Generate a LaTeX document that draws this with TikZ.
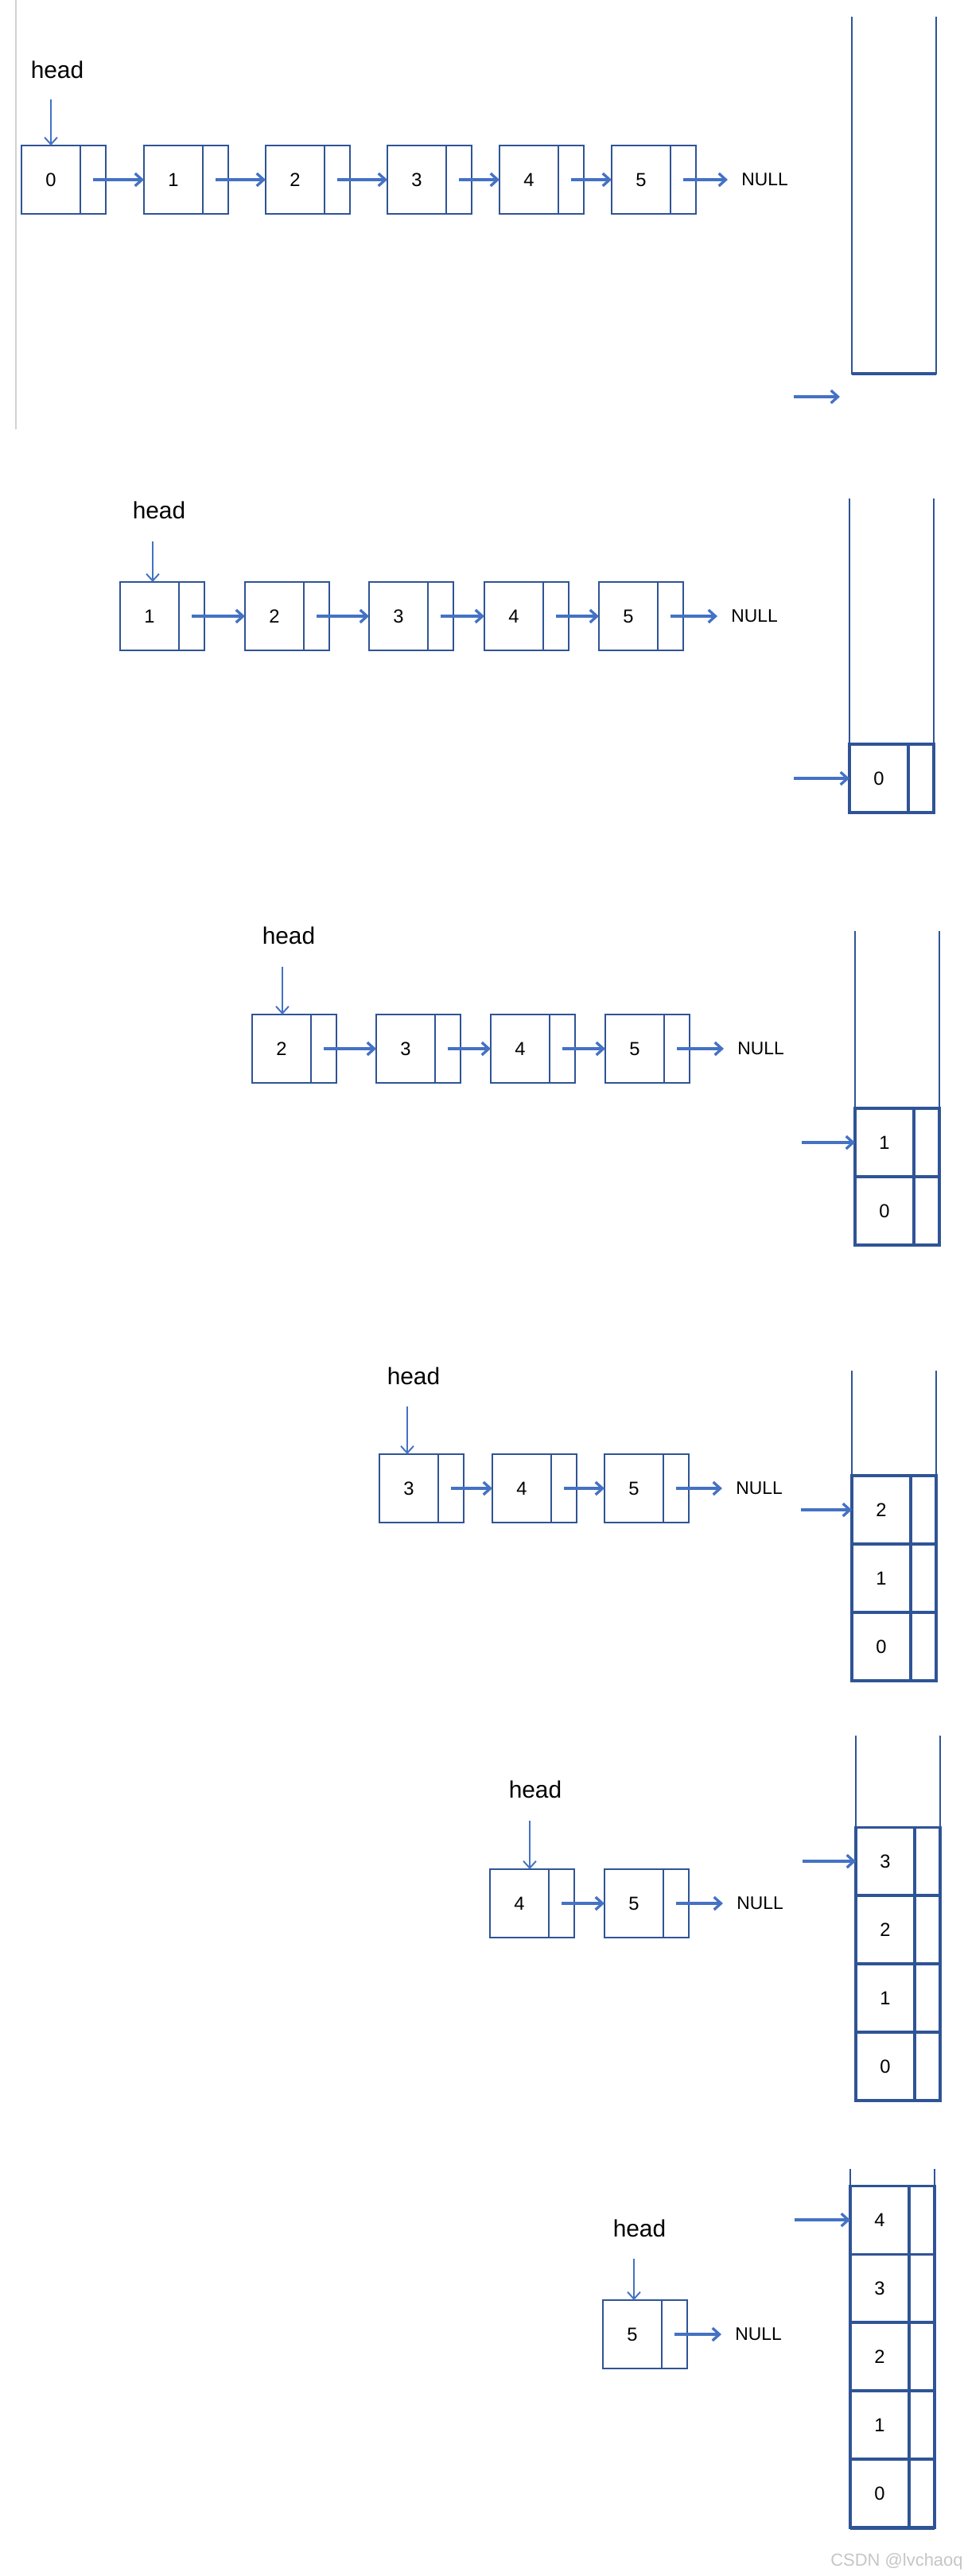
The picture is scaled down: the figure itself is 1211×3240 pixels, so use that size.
\documentclass[tikz,border=0pt]{standalone}
\usepackage{fontspec}
\setmainfont{Liberation Sans}
\usetikzlibrary{positioning, calc, arrows.meta}
\definecolor{boxblue}{RGB}{47,84,150}
\definecolor{linkblue}{RGB}{68,114,196}

\begin{document}
\begin{tikzpicture}[x=0.02cm, y=-0.02cm,
    % Define the styles for the list nodes and the stack cells
    dat/.style={draw=boxblue, line width=1.4pt, minimum width=1.48cm,
        minimum height=1.72cm, inner sep=0pt, outer sep=0pt,
        font=\fontsize{13.5}{15}\selectfont},
    ptr/.style={draw=boxblue, line width=1.4pt, minimum width=0.64cm,
        minimum height=1.72cm, inner sep=0pt, outer sep=0pt},
    cell/.style={dat, line width=1.8pt},
    cellptr/.style={ptr, line width=1.8pt},
    link/.style={draw=linkblue, line width=1.9pt,
        -{Straight Barb[length=5pt, width=9pt]}},
    headlink/.style={link, line width=1.1pt},
    headtxt/.style={font=\fontsize{17}{19}\selectfont},
    nulltxt/.style={font=\fontsize{13}{15}\selectfont, inner xsep=0.34cm},
    wall/.style={draw=boxblue, line width=1.4pt},
    base/.style={draw=boxblue, line width=2.8pt}
]

% Background and margins
\fill[white] (0,0) rectangle (1211,3240);
\useasboundingbox (0,0) rectangle (1211,3240);
\draw[gray!35, line width=0.6pt] (20,0) -- (20,540);

% First state: 0 -> 1 -> 2 -> 3 -> 4 -> 5, empty stack
\node[dat] (a0) at (64,226) {0};
\node[ptr, right=0pt of a0] (a0p) {};
\node[dat] (a1) at (218,226) {1};
\node[ptr, right=0pt of a1] (a1p) {};
\node[dat] (a2) at (371,226) {2};
\node[ptr, right=0pt of a2] (a2p) {};
\node[dat] (a3) at (524,226) {3};
\node[ptr, right=0pt of a3] (a3p) {};
\node[dat] (a4) at (665,226) {4};
\node[ptr, right=0pt of a4] (a4p) {};
\node[dat] (a5) at (806,226) {5};
\node[ptr, right=0pt of a5] (a5p) {};
\node[nulltxt, right=0.8cm of a5p] (anull) {NULL};
\draw[link] (a0p.center) -- (a1.west);
\draw[link] (a1p.center) -- (a2.west);
\draw[link] (a2p.center) -- (a3.west);
\draw[link] (a3p.center) -- (a4.west);
\draw[link] (a4p.center) -- (a5.west);
\draw[link] (a5p.center) -- (anull.west);
\node[headtxt] (ahead) at ($(a0.north)+(8,-95)$) {head};
\coordinate (ahs) at ($(a0.north)+(0,-58)$);
\draw[headlink] (ahs) -- (ahs |- a0.north);
\draw[wall] (1071,21) |- (1177,470) -- (1177,21);
\draw[base] (1071,470) -- (1177,470);
\coordinate (atop) at (998,499);
\coordinate (atope) at (1056,499);
\draw[link] (atop) -- (atope);

% Second state: 0 pushed
\node[dat] (b1) at (188,775) {1};
\node[ptr, right=0pt of b1] (b1p) {};
\node[dat] (b2) at (345,775) {2};
\node[ptr, right=0pt of b2] (b2p) {};
\node[dat] (b3) at (501,775) {3};
\node[ptr, right=0pt of b3] (b3p) {};
\node[dat] (b4) at (646,775) {4};
\node[ptr, right=0pt of b4] (b4p) {};
\node[dat] (b5) at (790,775) {5};
\node[ptr, right=0pt of b5] (b5p) {};
\node[nulltxt, right=0.86cm of b5p] (bnull) {NULL};
\draw[link] (b1p.center) -- (b2.west);
\draw[link] (b2p.center) -- (b3.west);
\draw[link] (b3p.center) -- (b4.west);
\draw[link] (b4p.center) -- (b5.west);
\draw[link] (b5p.center) -- (bnull.west);
\node[headtxt] (bhead) at ($(b1.north)+(12,-90)$) {head};
\coordinate (bhs) at ($(b1.north)+(4,-51)$);
\draw[headlink] (bhs) -- (bhs |- b1.north);
\draw[wall] (1068,627) |- (1174,1022) -- (1174,627);
\node[cell] (bs0) at (1105,979) {0};
\node[cellptr, right=0pt of bs0] (bs0p) {};
\draw[base] (1068,1022) -- (1174,1022);
\coordinate (btop) at ($(bs0.west)+(-70,0)$);
\draw[link] (btop) -- (bs0.west);

% Third state: 1 pushed
\node[dat] (c2) at (354,1319) {2};
\node[ptr, right=0pt of c2] (c2p) {};
\node[dat] (c3) at (510,1319) {3};
\node[ptr, right=0pt of c3] (c3p) {};
\node[dat] (c4) at (654,1319) {4};
\node[ptr, right=0pt of c4] (c4p) {};
\node[dat] (c5) at (798,1319) {5};
\node[ptr, right=0pt of c5] (c5p) {};
\node[nulltxt, right=0.86cm of c5p] (cnull) {NULL};
\draw[link] (c2p.center) -- (c3.west);
\draw[link] (c3p.center) -- (c4.west);
\draw[link] (c4p.center) -- (c5.west);
\draw[link] (c5p.center) -- (cnull.west);
\node[headtxt] (chead) at ($(c2.north)+(9,-99)$) {head};
\coordinate (chs) at ($(c2.north)+(1,-60)$);
\draw[headlink] (chs) -- (chs |- c2.north);
\draw[wall] (1075,1171) |- (1181,1566) -- (1181,1171);
\node[cell] (cs0) at (1112,1523) {0};
\node[cellptr, right=0pt of cs0] (cs0p) {};
\node[cell, above=0pt of cs0] (cs1) {1};
\node[cellptr, right=0pt of cs1] (cs1p) {};
\draw[base] (1075,1566) -- (1181,1566);
\coordinate (ctop) at ($(cs1.west)+(-67,0)$);
\draw[link] (ctop) -- (cs1.west);

% Fourth state: 2 pushed
\node[dat] (d3) at (514,1872) {3};
\node[ptr, right=0pt of d3] (d3p) {};
\node[dat] (d4) at (656,1872) {4};
\node[ptr, right=0pt of d4] (d4p) {};
\node[dat] (d5) at (797,1872) {5};
\node[ptr, right=0pt of d5] (d5p) {};
\node[nulltxt, right=0.84cm of d5p] (dnull) {NULL};
\draw[link] (d3p.center) -- (d4.west);
\draw[link] (d4p.center) -- (d5.west);
\draw[link] (d5p.center) -- (dnull.west);
\node[headtxt] (dhead) at ($(d3.north)+(6,-98)$) {head};
\coordinate (dhs) at ($(d3.north)+(-2,-60)$);
\draw[headlink] (dhs) -- (dhs |- d3.north);
\draw[wall] (1071,1724) |- (1177,2114) -- (1177,1724);
\node[cell] (ds0) at (1108,2071) {0};
\node[cellptr, right=0pt of ds0] (ds0p) {};
\node[cell, above=0pt of ds0] (ds1) {1};
\node[cellptr, right=0pt of ds1] (ds1p) {};
\node[cell, above=0pt of ds1] (ds2) {2};
\node[cellptr, right=0pt of ds2] (ds2p) {};
\draw[base] (1071,2114) -- (1177,2114);
\coordinate (dtop) at ($(ds2.west)+(-64,0)$);
\draw[link] (dtop) -- (ds2.west);

% Fifth state: 3 pushed
\node[dat] (e4) at (653,2394) {4};
\node[ptr, right=0pt of e4] (e4p) {};
\node[dat] (e5) at (797,2394) {5};
\node[ptr, right=0pt of e5] (e5p) {};
\node[nulltxt, right=0.86cm of e5p] (enull) {NULL};
\draw[link] (e4p.center) -- (e5.west);
\draw[link] (e5p.center) -- (enull.west);
\node[headtxt] (ehead) at ($(e4.north)+(20,-100)$) {head};
\coordinate (ehs) at ($(e4.north)+(13,-61)$);
\draw[headlink] (ehs) -- (ehs |- e4.north);
\draw[wall] (1076,2183) |- (1182,2642) -- (1182,2183);
\node[cell] (es0) at (1113,2599) {0};
\node[cellptr, right=0pt of es0] (es0p) {};
\node[cell, above=0pt of es0] (es1) {1};
\node[cellptr, right=0pt of es1] (es1p) {};
\node[cell, above=0pt of es1] (es2) {2};
\node[cellptr, right=0pt of es2] (es2p) {};
\node[cell, above=0pt of es2] (es3) {3};
\node[cellptr, right=0pt of es3] (es3p) {};
\draw[base] (1076,2642) -- (1182,2642);
\coordinate (etop) at ($(es3.west)+(-67,0)$);
\draw[link] (etop) -- (es3.west);

% Last state: 4 pushed, only 5 left
\node[dat] (f5) at (795,2936) {5};
\node[ptr, right=0pt of f5] (f5p) {};
\node[nulltxt, right=0.86cm of f5p] (fnull) {NULL};
\draw[link] (f5p.center) -- (fnull.west);
\node[headtxt] (fhead) at ($(f5.north)+(9,-90)$) {head};
\coordinate (fhs) at ($(f5.north)+(2,-52)$);
\draw[headlink] (fhs) -- (fhs |- f5.north);
\draw[wall] (1069,2728) |- (1175,3179) -- (1175,2728);
\node[cell] (fs0) at (1106,3136) {0};
\node[cellptr, right=0pt of fs0] (fs0p) {};
\node[cell, above=0pt of fs0] (fs1) {1};
\node[cellptr, right=0pt of fs1] (fs1p) {};
\node[cell, above=0pt of fs1] (fs2) {2};
\node[cellptr, right=0pt of fs2] (fs2p) {};
\node[cell, above=0pt of fs2] (fs3) {3};
\node[cellptr, right=0pt of fs3] (fs3p) {};
\node[cell, above=0pt of fs3] (fs4) {4};
\node[cellptr, right=0pt of fs4] (fs4p) {};
\draw[base] (1069,3179) -- (1175,3179);
\coordinate (ftop) at ($(fs4.west)+(-70,0)$);
\draw[link] (ftop) -- (fs4.west);

% Watermark
\node[anchor=east, inner sep=0pt, text=gray!45,
    font=\fontsize{12.5}{14}\selectfont] (mark) at (1211,3222) {CSDN @lvchaoq};

\end{tikzpicture}
\end{document}
